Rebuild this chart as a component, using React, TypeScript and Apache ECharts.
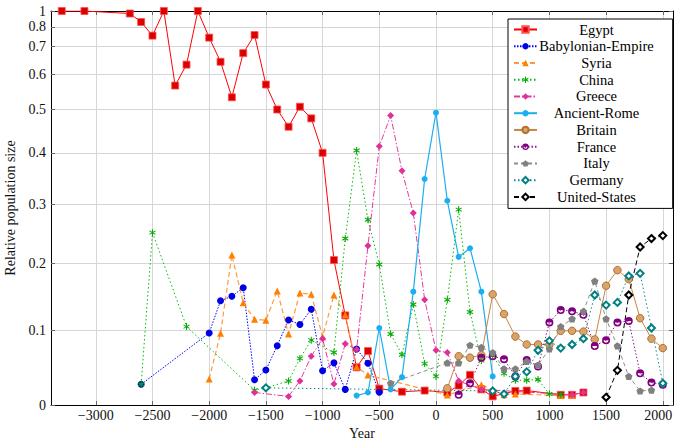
import React, { useEffect, useRef } from 'react';
import * as echarts from 'echarts';

// ---------- data ----------
const xTicks = [-3000, -2500, -2000, -1500, -1000, -500, 0, 500, 1000, 1500, 2000];
const yTicks = [0, 0.1, 0.2, 0.3, 0.4, 0.5, 0.6, 0.7, 0.8, 1];

const egyptYears = [-3300, -3100, -2700, -2600, -2500, -2400, -2300, -2200, -2100, -2000, -1900, -1800, -1700, -1600, -1500, -1400, -1300, -1200, -1100, -1000, -900, -800, -700, -600, -500, -300, -100, 100, 200, 300, 400, 500, 700, 800, 1100, 1200, 1300];
const egyptVals = [1, 1, 0.92, 0.833, 0.75, 1, 0.565, 0.631, 1, 0.74, 0.641, 0.532, 0.673, 0.753, 0.568, 0.5, 0.458, 0.507, 0.478, 0.4, 0.205, 0.121, 0.049, 0.071, 0.021, 0.017, 0.0185, 0.016, 0.025, 0.039, 0.02, 0.011, 0.018, 0.0185, 0.013, 0.013, 0.016];

const babYears = [-2600, -2000, -1900, -1800, -1700, -1600, -1500, -1400, -1300, -1200, -1100, -1000, -900, -800, -700, -600, -500];
const babVals = [0.0266, 0.096, 0.1425, 0.149, 0.162, 0.0326, 0.0454, 0.0783, 0.1145, 0.108, 0.13, 0.0445, 0.055, 0.02, 0.0738, 0.0545, 0.0163];

const syriaYears = [-2000, -1900, -1800, -1700, -1600, -1500, -1400, -1300, -1200, -1100, -1000, -900, -800, -700, -600, 100, 400, 600, 700, 1100, 1200];
const syriaVals = [0.0336, 0.0956, 0.213, 0.1395, 0.1155, 0.114, 0.157, 0.0946, 0.154, 0.152, 0.0908, 0.151, 0.1218, 0.0498, 0.0388, 0.0128, 0.026, 0.013, 0.014, 0.012, 0.012];

const chinaYears = [-2600, -2500, -2200, -1600, -1500, -1300, -1200, -1100, -900, -800, -700, -600, -500, -400, -300, -200, -100, 0, 100, 200, 300, 400, 500, 600, 700, 800, 900, 1000, 1100];
const chinaVals = [0.0266, 0.25, 0.105, 0.019, 0.022, 0.031, 0.061, 0.086, 0.069, 0.24, 0.405, 0.272, 0.198, 0.0946, 0.066, 0.137, 0.054, 0.037, 0.144, 0.29, 0.126, 0.058, 0.065, 0.041, 0.032, 0.032, 0.033, 0.014, 0.013];

const greeceYears = [-1600, -1300, -1200, -1100, -1000, -900, -800, -700, -600, -500, -400, -300, -200, -100, 0, 100, 200, 400, 1200, 1300];
const greeceVals = [0.016, 0.011, 0.031, 0.064, 0.088, 0.027, 0.081, 0.073, 0.228, 0.414, 0.485, 0.363, 0.284, 0.144, 0.072, 0.069, 0.031, 0.02, 0.013, 0.016];

const romeYears = [-700, -600, -500, -400, -300, -200, -100, 0, 100, 200, 300, 400, 500];
const romeVals = [0.012, 0.016, 0.103, 0.02, 0.036, 0.156, 0.347, 0.492, 0.306, 0.21, 0.224, 0.156, 0.037];

const britainYears = [100, 200, 300, 400, 500, 600, 700, 800, 900, 1000, 1100, 1200, 1300, 1400, 1500, 1600, 1700, 1800, 1900, 2000];
const britainVals = [0.0215, 0.064, 0.062, 0.0656, 0.152, 0.123, 0.091, 0.08, 0.08, 0.08, 0.099, 0.099, 0.098, 0.087, 0.165, 0.189, 0.175, 0.117, 0.088, 0.075];

const franceYears = [200, 300, 400, 500, 600, 700, 800, 900, 1000, 1100, 1200, 1300, 1400, 1500, 1600, 1700, 1800, 1900, 2000];
const franceVals = [0.013, 0.028, 0.062, 0.064, 0.06, 0.037, 0.059, 0.05, 0.111, 0.129, 0.127, 0.122, 0.078, 0.086, 0.111, 0.113, 0.041, 0.029, 0.026];

const italyYears = [-400, 100, 200, 300, 400, 500, 600, 700, 800, 900, 1000, 1100, 1200, 1300, 1400, 1500, 1600, 1700, 1800, 1900];
const italyVals = [0.028, 0.055, 0.055, 0.079, 0.076, 0.069, 0.047, 0.047, 0.057, 0.052, 0.074, 0.105, 0.116, 0.127, 0.172, 0.116, 0.078, 0.037, 0.018, 0.019];

const germanyYears = [-1500, 500, 600, 700, 800, 900, 1000, 1100, 1200, 1300, 1400, 1500, 1600, 1700, 1800, 1900, 2000];
const germanyVals = [0.022, 0.018, 0.014, 0.037, 0.043, 0.072, 0.085, 0.075, 0.08, 0.088, 0.151, 0.136, 0.14, 0.18, 0.184, 0.103, 0.028];

const usYears = [1500, 1600, 1700, 1800, 1900, 2000];
const usVals = [0.0098, 0.045, 0.151, 0.226, 0.24, 0.245];

// ---------- helpers ----------
const warp = (v: number) => 1 - (1 - v) * (1 - v);
const unwarp = (w: number) => 1 - Math.sqrt(Math.max(0, 1 - w));
const FONT = "'Liberation Serif', 'DejaVu Serif', serif";

const ASTERISK = 'path://M-0.15,-1L0.15,-1L0.15,1L-0.15,1Z M-0.941,-0.37L-0.791,-0.63L0.941,0.37L0.791,0.63Z M-0.791,0.63L-0.941,0.37L0.791,-0.63L0.941,-0.37Z';
const PENTAGON = 'path://M0,-1L0.951,-0.309L0.588,0.809L-0.588,0.809L-0.951,-0.309Z';
const HALFCIRCLE = 'path://M-1,0A1,1,0,1,1,1,0A1,1,0,1,1,-1,0Z M-0.62,0A0.62,0.62,0,1,0,0.62,0A0.62,0.62,0,1,0,-0.62,0Z M-0.62,0A0.62,0.62,0,0,1,0.62,0Z';

function mk(name: string, years: number[], vals: number[], o: any) {
  return {
    name,
    type: 'line',
    data: years.map((y, i) => [y, warp(vals[i])]),
    symbol: o.symbol,
    symbolSize: o.size,
    symbolKeepAspect: true,
    showAllSymbol: true,
    lineStyle: { color: o.line, width: o.width ?? 1, type: o.dash ?? 'solid' },
    itemStyle: { color: o.fill, borderColor: o.border ?? o.fill, borderWidth: o.bw ?? 0 },
    emphasis: { disabled: true },
  };
}

export default function App() {
  const ref = useRef<HTMLDivElement>(null);
  useEffect(() => {
    if (!ref.current) return;
    const chart = echarts.init(ref.current, undefined, { renderer: 'svg' });
    const yW = yTicks.map(warp);
    const lastX = xTicks[xTicks.length - 1];
    const xFmt = (v: number) => {
      const s = v < 0 ? '\u2212' + Math.abs(v) : String(v);
      return v === lastX ? '{r|' + s + '}' : s;
    };
    const yFmt = (w: number) => {
      const v = Math.round(unwarp(w) * 10) / 10;
      if (v === 0) return '0';
      if (v === 1) return '1';
      return v.toFixed(1);
    };
    const tickStyle = { color: '#666', width: 1 };
    const series = [
      mk('Egypt', egyptYears, egyptVals, { symbol: 'rect', size: 7, line: '#ff0000', fill: '#dc0000', border: '#ff5050', bw: 0.8 }),
      mk('Babylonian-Empire', babYears, babVals, { symbol: 'circle', size: 7, line: '#0000ff', fill: '#0000e6', dash: [1.5, 1.5] }),
      mk('Syria', syriaYears, syriaVals, { symbol: 'triangle', size: 7, line: '#ff9a3c', fill: '#ff8000', dash: [5, 3], width: 1.2 }),
      mk('China', chinaYears, chinaVals, { symbol: ASTERISK, size: 7, line: '#00bb00', fill: '#00aa00', dash: [1.5, 2.5] }),
      mk('Greece', greeceYears, greeceVals, { symbol: 'diamond', size: 7, line: '#e6399b', fill: '#e0309a', dash: [6, 2, 1.5, 2] }),
      mk('Ancient-Rome', romeYears, romeVals, { symbol: 'circle', size: 6, line: '#1aaff0', fill: '#1aaff0', width: 1.2 }),
      mk('Britain', britainYears, britainVals, { symbol: 'circle', size: 7.5, line: '#c68642', fill: '#d9a36c', border: '#b07030', bw: 1 }),
      mk('France', franceYears, franceVals, { symbol: HALFCIRCLE, size: 8, line: '#8b1a8b', fill: '#800080', dash: [1.5, 2] }),
      mk('Italy', italyYears, italyVals, { symbol: PENTAGON, size: 7.5, line: '#8c8c8c', fill: '#808080', dash: [4, 3] }),
      mk('Germany', germanyYears, germanyVals, { symbol: 'emptyDiamond', size: 7, line: '#008b8b', fill: '#008080', dash: [1.5, 2.5], bw: 1 }),
      mk('United-States', usYears, usVals, { symbol: 'emptyDiamond', size: 7, line: '#000000', fill: '#000000', dash: [5, 3], bw: 1 }),
    ];
    chart.setOption({
      animation: false,
      backgroundColor: '#ffffff',
      textStyle: { fontFamily: FONT },
      grid: { left: 51, right: 2, top: 11, bottom: 35, containLabel: false, outerBoundsMode: 'none' },
      legend: {
        orient: 'vertical',
        left: 508,
        top: 19,
        padding: [3, 19, 4, 5],
        itemGap: 1.74,
        itemWidth: 23,
        itemHeight: 8,
        backgroundColor: '#ffffff',
        borderColor: '#000000',
        borderWidth: 1,
        borderRadius: 0,
        selectedMode: false,
        data: series.map((s) => s.name),
        formatter: (n: string) => '{t|' + n + '}',
        textStyle: {
          fontFamily: FONT,
          fontSize: 14.5,
          color: '#000',
          rich: { t: { width: 109, align: 'center', lineHeight: 16, fontFamily: FONT, fontSize: 14.5, color: '#000' } },
        },
      },
      xAxis: [
        {
          type: 'value', min: -3395, max: 2090, position: 'bottom',
          name: 'Year', nameLocation: 'middle', nameGap: 20,
          nameTextStyle: { fontFamily: FONT, fontSize: 14, color: '#111' },
          axisLine: { show: true, onZero: false, lineStyle: { color: '#000', width: 1 } },
          axisTick: { show: true, inside: true, length: 4, customValues: xTicks, lineStyle: tickStyle },
          axisLabel: {
            customValues: xTicks, formatter: xFmt, margin: 3, fontFamily: FONT, fontSize: 14, color: '#111',
            rich: { r: { padding: [0, 9, 0, 0], fontFamily: FONT, fontSize: 14, color: '#111' } },
          },
          splitLine: { show: true, lineStyle: { color: '#d6d6d6', width: 1 } },
        },
        {
          type: 'value', min: -3395, max: 2090, position: 'top',
          axisLine: { show: true, onZero: false, lineStyle: { color: '#000', width: 1 } },
          axisTick: { show: true, inside: true, length: 4, customValues: xTicks, lineStyle: tickStyle },
          axisLabel: { show: false },
          splitLine: { show: false },
        },
      ],
      yAxis: [
        {
          type: 'value', min: 0, max: 1, position: 'left',
          name: 'Relative population size', nameLocation: 'middle', nameGap: 26,
          nameTextStyle: { fontFamily: FONT, fontSize: 14, color: '#111' },
          axisLine: { show: true, onZero: false, lineStyle: { color: '#000', width: 1 } },
          axisTick: { show: true, inside: true, length: 4, customValues: yW, lineStyle: tickStyle },
          axisLabel: { customValues: yW, formatter: yFmt, margin: 5, fontFamily: FONT, fontSize: 14, color: '#111' },
          splitLine: { show: true, lineStyle: { color: '#d6d6d6', width: 1 } },
        },
        {
          type: 'value', min: 0, max: 1, position: 'right',
          axisLine: { show: true, onZero: false, lineStyle: { color: '#000', width: 1 } },
          axisTick: { show: true, inside: true, length: 4, customValues: yW, lineStyle: tickStyle },
          axisLabel: { show: false },
          splitLine: { show: false },
        },
      ],
      series,
    });
    return () => chart.dispose();
  }, []);
  return (
    <div
      ref={ref}
      style={{ position: 'fixed', left: 0, top: 0, width: 675, height: 440, background: '#fff' }}
    />
  );
}
